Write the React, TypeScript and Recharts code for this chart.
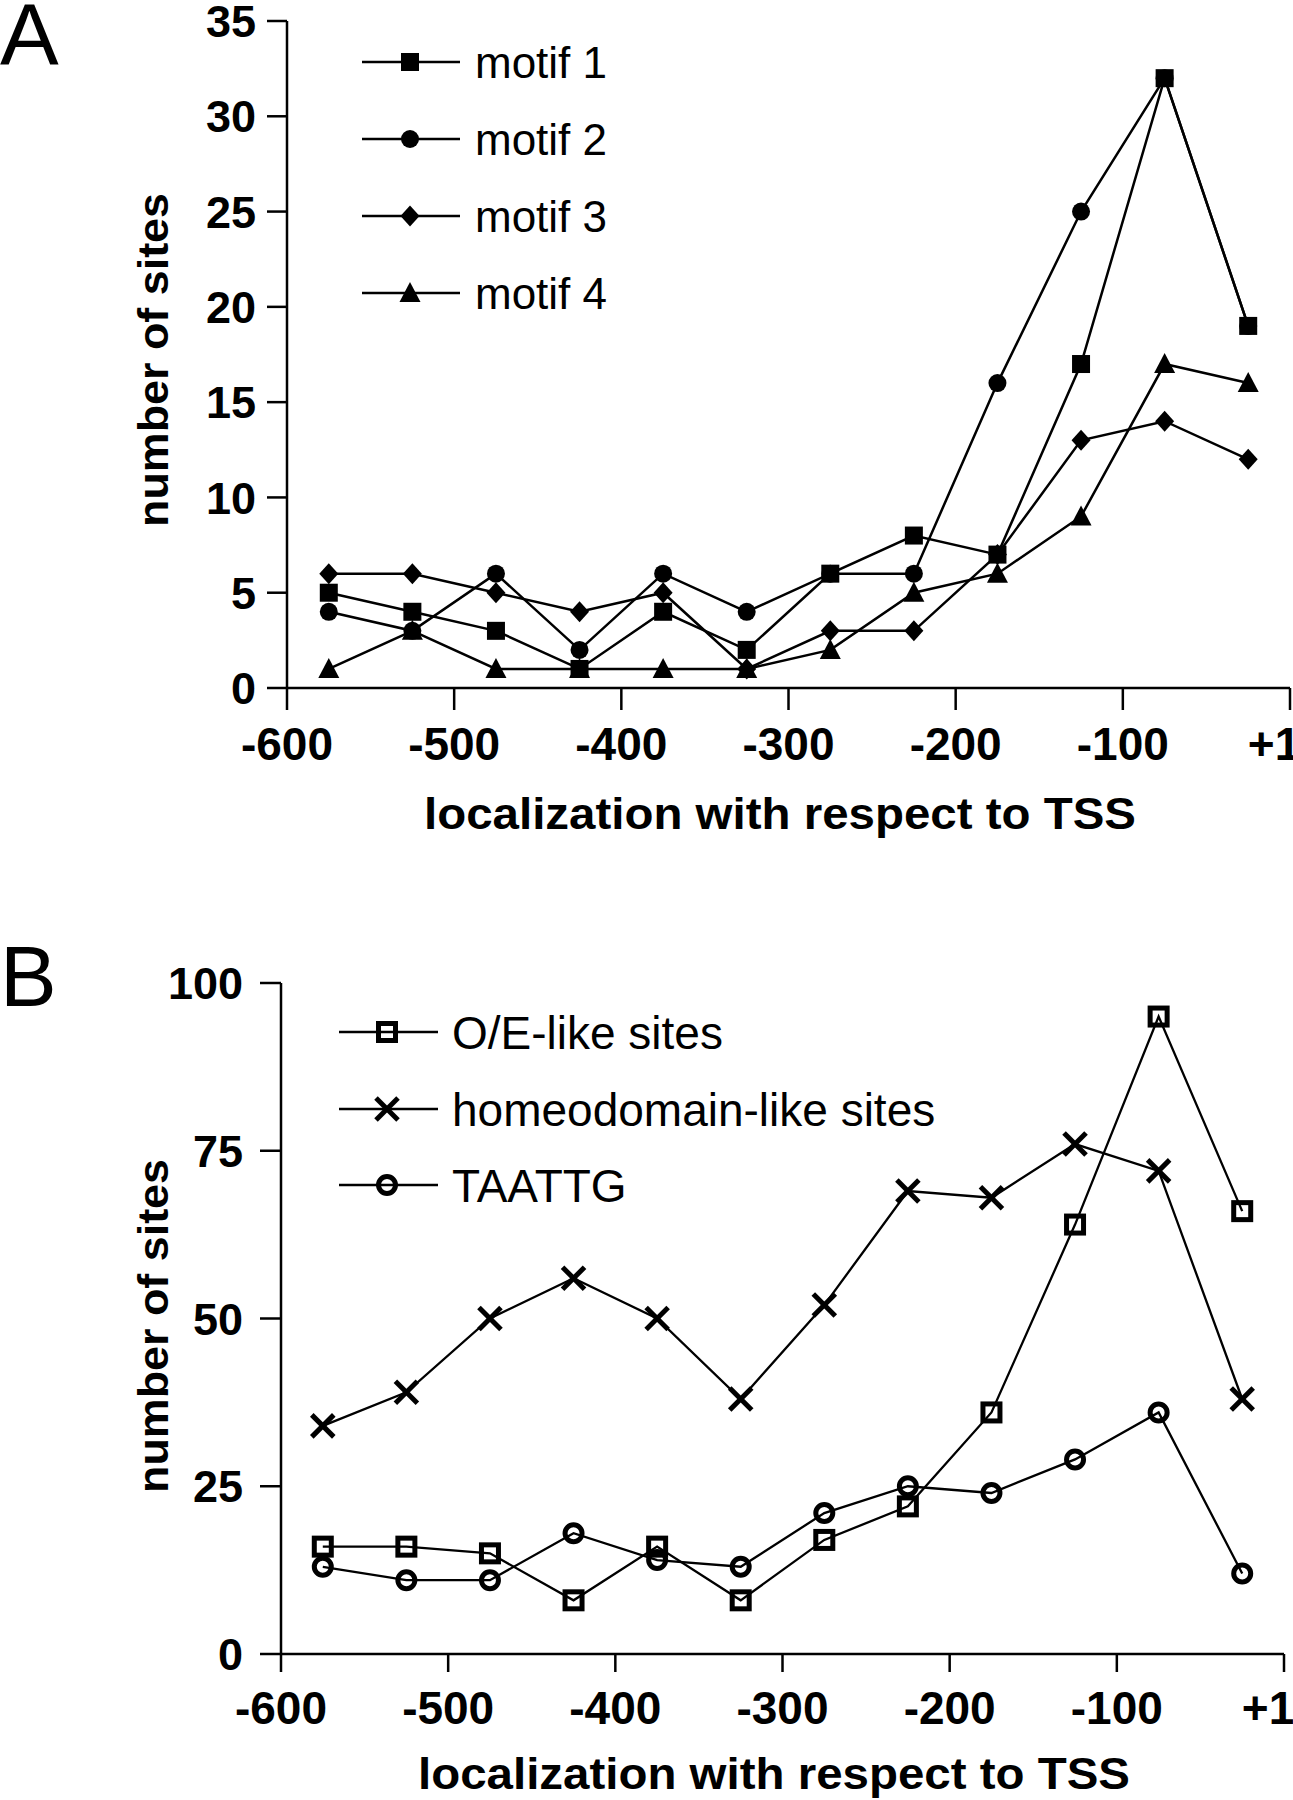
import React from 'react';
import { LineChart, Line, XAxis, YAxis } from 'recharts';

// Bin centres (bp relative to the TSS) shared by both panels
const positions = [-575, -525, -475, -425, -375, -325, -275, -225, -175, -125, -75, -25];
const xTicks = [-600, -500, -400, -300, -200, -100, 0];

// Panel A: occurrences of the four motifs
const motif1 = [5, 4, 3, 1, 4, 2, 6, 8, 7, 17, 32, 19];
const motif2 = [4, 3, 6, 2, 6, 4, 6, 6, 16, 25, 32, 19];
const motif3 = [6, 6, 5, 4, 5, 1, 3, 3, 7, 13, 14, 12];
const motif4 = [1, 3, 1, 1, 1, 1, 2, 5, 6, 9, 17, 16];
const yTicksA = [0, 5, 10, 15, 20, 25, 30, 35];

// Panel B: O/E-like, homeodomain-like and TAATTG sites
const oeSites = [16, 16, 15, 8, 16, 8, 17, 22, 36, 64, 95, 66];
const homeoSites = [34, 39, 50, 56, 50, 38, 52, 69, 68, 76, 72, 38];
const taattg = [13, 11, 11, 18, 14, 13, 21, 25, 24, 29, 36, 12];
const yTicksB = [0, 25, 50, 75, 100];

const seriesA = [
  { key: 'motif1', name: 'motif 1', shape: 'square' },
  { key: 'motif2', name: 'motif 2', shape: 'circle' },
  { key: 'motif3', name: 'motif 3', shape: 'diamond' },
  { key: 'motif4', name: 'motif 4', shape: 'triangle' },
];
const seriesB = [
  { key: 'oe', name: 'O/E-like sites', shape: 'openSquare' },
  { key: 'homeo', name: 'homeodomain-like sites', shape: 'cross' },
  { key: 'taattg', name: 'TAATTG', shape: 'openCircle' },
];

const dataA = positions.map((pos, i) => ({
  pos,
  motif1: motif1[i],
  motif2: motif2[i],
  motif3: motif3[i],
  motif4: motif4[i],
}));
const dataB = positions.map((pos, i) => ({
  pos,
  oe: oeSites[i],
  homeo: homeoSites[i],
  taattg: taattg[i],
}));

const FONT = "'Liberation Sans', Arial, Helvetica, sans-serif";

function marker(shape: string, cx: number, cy: number, key?: string) {
  switch (shape) {
    case 'square':
      return <rect key={key} x={cx - 9} y={cy - 9} width={18} height={18} fill="#000" />;
    case 'circle':
      return <circle key={key} cx={cx} cy={cy} r={9} fill="#000" />;
    case 'diamond':
      return (
        <polygon
          key={key}
          points={`${cx},${cy - 10.5} ${cx + 9.5},${cy} ${cx},${cy + 10.5} ${cx - 9.5},${cy}`}
          fill="#000"
        />
      );
    case 'triangle':
      return (
        <polygon
          key={key}
          points={`${cx},${cy - 11} ${cx + 10.5},${cy + 9} ${cx - 10.5},${cy + 9}`}
          fill="#000"
        />
      );
    case 'openSquare':
      return (
        <rect key={key} x={cx - 8.5} y={cy - 8.5} width={17} height={17} fill="none" stroke="#000" strokeWidth={5} />
      );
    case 'openCircle':
      return <circle key={key} cx={cx} cy={cy} r={8.5} fill="none" stroke="#000" strokeWidth={5} />;
    case 'cross':
    default:
      return (
        <g key={key} stroke="#000" strokeWidth={5}>
          <line x1={cx - 11} y1={cy - 11} x2={cx + 11} y2={cy + 11} />
          <line x1={cx - 11} y1={cy + 11} x2={cx + 11} y2={cy - 11} />
        </g>
      );
  }
}

const makeDot = (shape: string, name: string) => (props: any) =>
  marker(shape, props.cx, props.cy, `${name}-${props.index}`);

const XTick = (props: any) => {
  const { x, y, payload } = props;
  const v = payload.value;
  return (
    <text
      x={v === 0 ? x - 16 : x}
      y={y}
      dy="0.71em"
      textAnchor="middle"
      fontFamily={FONT}
      fontWeight="bold"
      fontSize={46}
      fill="#000"
    >
      {v === 0 ? '+1' : String(v)}
    </text>
  );
};

const YTick = (props: any) => {
  const { x, y, payload } = props;
  return (
    <text x={x} y={y} dy="0.36em" textAnchor="end" fontFamily={FONT} fontWeight="bold" fontSize={45} fill="#000">
      {String(payload.value)}
    </text>
  );
};

const axisStroke = { stroke: '#000', strokeWidth: 2.5 };

function Legend({ items, x0, x1, mx, tx, rows, fontSize }: any) {
  return (
    <g>
      {items.map((s: any, i: number) => (
        <g key={s.key}>
          <line x1={x0} y1={rows[i]} x2={x1} y2={rows[i]} stroke="#000" strokeWidth={2.5} />
          {marker(s.shape, mx, rows[i])}
          <text x={tx} y={rows[i] + fontSize * 0.36} fontFamily={FONT} fontSize={fontSize} fill="#000">
            {s.name}
          </text>
        </g>
      ))}
    </g>
  );
}

export default function App() {
  return (
    <div style={{ position: 'absolute', left: 0, top: 0, width: 1293, height: 1800, background: '#fff' }}>
      <div style={{ position: 'absolute', left: 0, top: 0 }}>
        <LineChart width={1293} height={880} data={dataA} margin={{ top: 21, right: 3, bottom: 132, left: 187 }}>
          <XAxis
            dataKey="pos"
            type="number"
            domain={[-600, 0]}
            ticks={xTicks}
            interval={0}
            height={60}
            tickSize={22}
            tickMargin={17}
            axisLine={axisStroke}
            tickLine={axisStroke}
            tick={<XTick />}
          />
          <YAxis
            type="number"
            domain={[0, 35]}
            ticks={yTicksA}
            interval={0}
            width={100}
            tickSize={20}
            tickMargin={11}
            axisLine={axisStroke}
            tickLine={axisStroke}
            tick={<YTick />}
          />
          {seriesA.map((s) => (
            <Line
              key={s.key}
              dataKey={s.key}
              name={s.name}
              type="linear"
              stroke="#000"
              strokeWidth={2.5}
              dot={makeDot(s.shape, s.key)}
              activeDot={false}
              isAnimationActive={false}
            />
          ))}
        </LineChart>
      </div>

      <div style={{ position: 'absolute', left: 0, top: 900 }}>
        <LineChart width={1293} height={900} data={dataB} margin={{ top: 83, right: 9, bottom: 86, left: 181 }}>
          <XAxis
            dataKey="pos"
            type="number"
            domain={[-600, 0]}
            ticks={xTicks}
            interval={0}
            height={60}
            tickSize={18}
            tickMargin={19}
            axisLine={axisStroke}
            tickLine={axisStroke}
            tick={<XTick />}
          />
          <YAxis
            type="number"
            domain={[0, 100]}
            ticks={yTicksB}
            interval={0}
            width={100}
            tickSize={21}
            tickMargin={17}
            axisLine={axisStroke}
            tickLine={axisStroke}
            tick={<YTick />}
          />
          {seriesB.map((s) => (
            <Line
              key={s.key}
              dataKey={s.key}
              name={s.name}
              type="linear"
              stroke="#000"
              strokeWidth={2.3}
              dot={makeDot(s.shape, s.key)}
              activeDot={false}
              isAnimationActive={false}
            />
          ))}
        </LineChart>
      </div>

      <svg
        width={1293}
        height={1800}
        style={{ position: 'absolute', left: 0, top: 0, pointerEvents: 'none' }}
      >
        {/* panel letters */}
        <text x={0} y={65} fontFamily={FONT} fontSize={88} fill="#000">A</text>
        <text x={0} y={1006} fontFamily={FONT} fontSize={85} fill="#000">B</text>

        {/* panel A titles */}
        <text
          x={780}
          y={829}
          textAnchor="middle"
          fontFamily={FONT}
          fontWeight="bold"
          fontSize={44}
          textLength={712}
          lengthAdjust="spacingAndGlyphs"
          fill="#000"
        >
          localization with respect to TSS
        </text>
        <text
          transform="translate(168,360) rotate(-90)"
          textAnchor="middle"
          fontFamily={FONT}
          fontWeight="bold"
          fontSize={43}
          textLength={334}
          lengthAdjust="spacingAndGlyphs"
          fill="#000"
        >
          number of sites
        </text>

        {/* panel B titles */}
        <text
          x={774}
          y={1789}
          textAnchor="middle"
          fontFamily={FONT}
          fontWeight="bold"
          fontSize={44}
          textLength={712}
          lengthAdjust="spacingAndGlyphs"
          fill="#000"
        >
          localization with respect to TSS
        </text>
        <text
          transform="translate(168,1326) rotate(-90)"
          textAnchor="middle"
          fontFamily={FONT}
          fontWeight="bold"
          fontSize={43}
          textLength={334}
          lengthAdjust="spacingAndGlyphs"
          fill="#000"
        >
          number of sites
        </text>

        <Legend items={seriesA} x0={362} x1={460} mx={410} tx={475} rows={[62, 139, 216, 293]} fontSize={44} />
        <Legend items={seriesB} x0={339} x1={438} mx={387} tx={452} rows={[1032, 1109, 1185]} fontSize={46} />
      </svg>
    </div>
  );
}
